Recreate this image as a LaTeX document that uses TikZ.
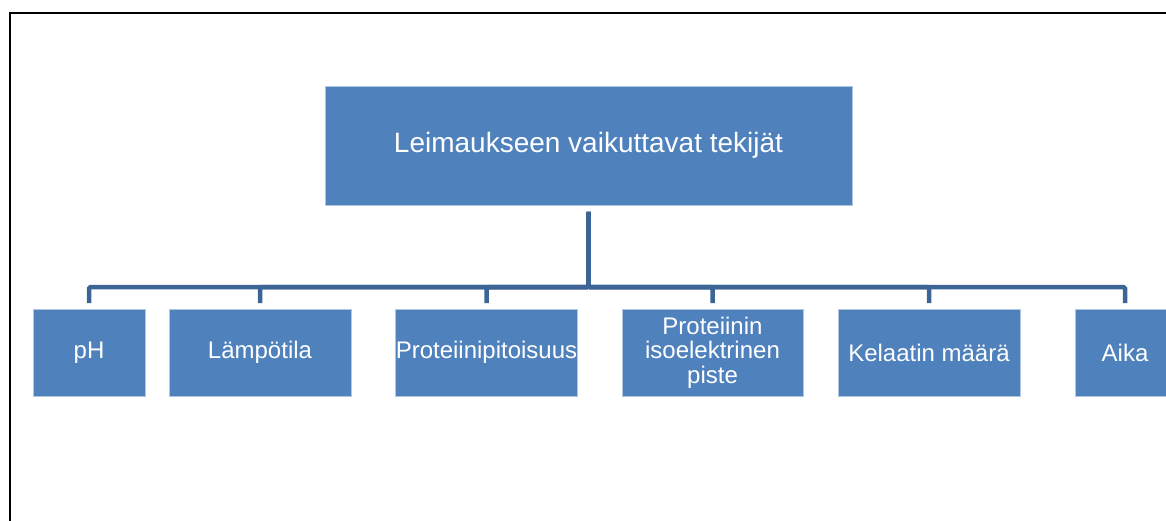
\documentclass[tikz,border=0pt]{standalone}
\usepackage{fontspec}
\setmainfont{Liberation Sans}
\definecolor{boxblue}{RGB}{79,129,189}
\definecolor{linkblue}{RGB}{60,100,148}
\tikzset{
	topbox/.style={fill=boxblue, draw=white!55!boxblue, line width=0.8pt, text=white, inner sep=0pt, outer sep=0pt,
		minimum width=527pt, minimum height=119pt, font=\fontsize{28pt}{32pt}\selectfont},
	factor/.style={fill=boxblue, draw=white!55!boxblue, line width=0.8pt, text=white, inner sep=0pt, outer sep=0pt,
		minimum height=87pt, align=center, font=\fontsize{24pt}{24.5pt}\selectfont},
	link/.style={draw=linkblue, line width=4.5pt, rounded corners=1.5pt}
}
\begin{document}
\begin{tikzpicture}[x=1pt,y=-1pt]
	\useasboundingbox (0,0) rectangle (1166,521);
	\clip (0,0) rectangle (1166,521);
	% frame
	\draw [black, line width=2pt] (10,530) -- (10,13) -- (1180,13);

	% top
	\node [topbox] (top) at (588.5,145.5){Leimaukseen vaikuttavat tekijät};
	\coordinate (bus) at (588.5,287);

	% factors
	\node [factor, minimum width=112pt] (ph) at (89,352.5){pH};
	\node [factor, minimum width=182pt] (lampo) at (260,352.5){Lämpötila};
	\node [factor, minimum width=181pt] (pitoisuus) at (486.5,352.5){Proteiinipitoisuus};
	\node [factor, minimum width=181pt] (piste) at (712.5,352.5){Proteiinin\\isoelektrinen\\piste};
	\node [factor, minimum width=182pt] (kelaatti) at (929,352.5){Kelaatin määrä};
	\node [factor, minimum width=100pt] (aika) at (1125,352.5){Aika};

	% links
	\draw [link, shorten <=7pt, shorten >=6pt] (top.south) -- (bus) -| (ph.north);
	\draw [link, shorten <=7pt, shorten >=6pt] (top.south) -- (bus) -| (lampo.north);
	\draw [link, shorten <=7pt, shorten >=6pt] (top.south) -- (bus) -| (pitoisuus.north);
	\draw [link, shorten <=7pt, shorten >=6pt] (top.south) -- (bus) -| (piste.north);
	\draw [link, shorten <=7pt, shorten >=6pt] (top.south) -- (bus) -| (kelaatti.north);
	\draw [link, shorten <=7pt, shorten >=6pt] (top.south) -- (bus) -| (aika.north);
\end{tikzpicture}
\end{document}
